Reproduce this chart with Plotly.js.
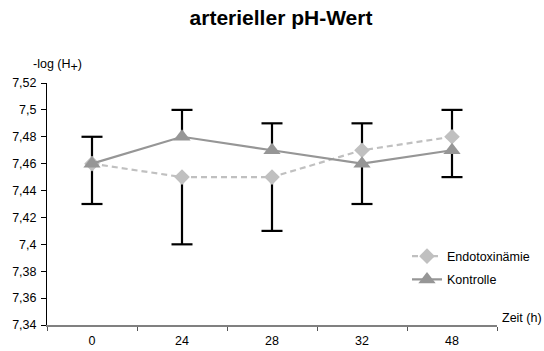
<!DOCTYPE html>
<html>
<head>
<meta charset="utf-8">
<script src="https://cdn.plot.ly/plotly-3.0.1.min.js"></script>
<style>html,body{margin:0;padding:0;background:#fff;}#chart{width:544px;height:351px;}</style>
</head>
<body>
<div id="chart"></div>
<script>
var categories = ['0', '24', '28', '32', '48'];
var endoValues = [7.46, 7.45, 7.45, 7.47, 7.48];
var endoErrPlus = [0.02, 0, 0, 0.02, 0.02];
var endoErrMinus = [0, 0.05, 0.04, 0, 0];
var kontValues = [7.46, 7.48, 7.47, 7.46, 7.47];
var kontErrPlus = [0, 0.02, 0.02, 0, 0];
var kontErrMinus = [0.03, 0, 0, 0.03, 0.02];
var yTickVals = [7.34, 7.36, 7.38, 7.40, 7.42, 7.44, 7.46, 7.48, 7.50, 7.52];
var yTickLabels = ['7,34', '7,36', '7,38', '7,4', '7,42', '7,44', '7,46', '7,48', '7,5', '7,52'];

var FONT = 'Liberation Sans, Arial, sans-serif';

function caps(values, plus, minus) {
  var ys = [], xs = [];
  for (var i = 0; i < values.length; i++) {
    if (plus[i] > 0) { xs.push(categories[i]); ys.push(values[i] + plus[i]); }
    if (minus[i] > 0) { xs.push(categories[i]); ys.push(values[i] - minus[i]); }
  }
  return {x: xs, y: ys};
}

function errTrace(values, plus, minus) {
  return {
    type: 'scatter', mode: 'none', x: categories, y: values,
    showlegend: false, hoverinfo: 'skip',
    error_y: {type: 'data', symmetric: false, array: plus, arrayminus: minus,
      width: 0, thickness: 2.2, color: '#000000'}
  };
}
function capTrace(values, plus, minus) {
  var c = caps(values, plus, minus);
  return {
    type: 'scatter', mode: 'markers', x: c.x, y: c.y,
    showlegend: false, hoverinfo: 'skip',
    marker: {symbol: 'line-ew', size: 15, color: '#000000', line: {color: '#000000', width: 2.2}}
  };
}

var data = [
  errTrace(endoValues, endoErrPlus, endoErrMinus),
  errTrace(kontValues, kontErrPlus, kontErrMinus),
  capTrace(endoValues, endoErrPlus, endoErrMinus),
  capTrace(kontValues, kontErrPlus, kontErrMinus),
  {
    type: 'scatter', mode: 'lines+markers', name: 'Endotoxinämie',
    x: categories, y: endoValues, legendgroup: 'a',
    line: {color: '#c0c0c0', width: 2.2, dash: '6px,4px'},
    marker: {symbol: 'diamond', size: 12, color: '#c0c0c0'}
  },
  {
    type: 'scatter', mode: 'lines+markers', name: 'Kontrolle',
    x: categories, y: kontValues, legendgroup: 'b',
    line: {color: '#969696', width: 2.2},
    marker: {symbol: 'triangle-up', size: 15, color: '#969696'}
  }
];

var layout = {
  width: 544, height: 351,
  margin: {l: 47, r: 47, t: 83, b: 26, pad: 0, autoexpand: false},
  paper_bgcolor: '#ffffff', plot_bgcolor: '#ffffff',
  font: {family: FONT, size: 12.5, color: '#000000'},
  title: {text: '<b>arterieller pH-Wert</b>', font: {family: FONT, size: 21, color: '#000000'},
    xref: 'container', x: 281 / 544, xanchor: 'center',
    yref: 'container', y: 1 - 18 / 351, yanchor: 'middle'},
  showlegend: true,
  legend: {x: 0.80, y: 0.345, xanchor: 'left', yanchor: 'top',
    bgcolor: 'rgba(0,0,0,0)', font: {family: FONT, size: 12.5, color: '#000000'},
    tracegroupgap: 4, traceorder: 'grouped'},
  xaxis: {type: 'category', categoryorder: 'array', categoryarray: categories,
    range: [-0.5, 4.5], tickson: 'boundaries', ticks: 'outside', ticklen: 4,
    tickcolor: '#555555', tickwidth: 1, showline: true, linecolor: '#808080', linewidth: 2,
    showgrid: false, zeroline: false, fixedrange: true, ticklabelstandoff: 3,
    tickfont: {family: FONT, size: 12.5, color: '#000000'}},
  yaxis: {range: [7.34, 7.52], tickmode: 'array', tickvals: yTickVals, ticktext: yTickLabels,
    ticks: 'outside', ticklen: 5, tickcolor: '#000000', tickwidth: 1,
    showline: true, linecolor: '#000000', linewidth: 1,
    showgrid: false, zeroline: false, fixedrange: true, ticklabelstandoff: 2,
    tickfont: {family: FONT, size: 12.5, color: '#000000'}},
  annotations: [
    {text: '-log (H<sub><span style="font-size:12.5px">+</span></sub>)', xref: 'paper', yref: 'paper',
      x: (31 - 47) / 450, y: (325 - 66) / 242, xanchor: 'left', yanchor: 'middle',
      showarrow: false, font: {family: FONT, size: 12.5, color: '#000000'}},
    {text: 'Zeit (h)', xref: 'paper', yref: 'paper', borderpad: 0,
      x: (543 - 47) / 450, y: (325 - 318) / 242, xanchor: 'right', yanchor: 'middle',
      showarrow: false, font: {family: FONT, size: 12.5, color: '#000000'}}
  ]
};

Plotly.newPlot('chart', data, layout, {displayModeBar: false, staticPlot: true});
</script>
</body>
</html>
